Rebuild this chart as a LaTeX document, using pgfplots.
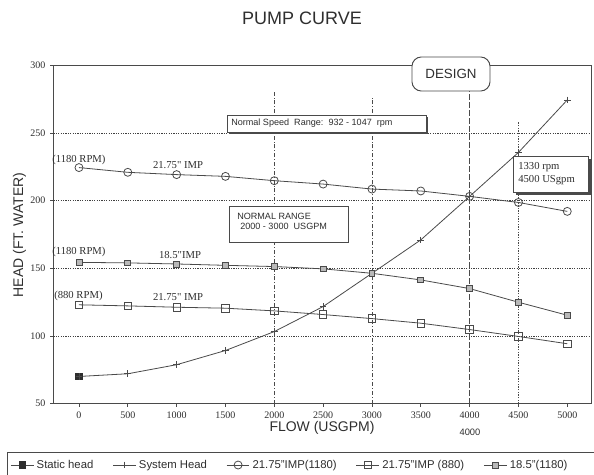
\documentclass[border=0pt]{standalone}
\usepackage{pgfplots}
\pgfplotsset{compat=1.18}
\usepackage{fontspec}
\setmainfont{Liberation Sans}
\newfontfamily\serif{Liberation Serif}
\definecolor{ink}{HTML}{2E2E2E}
\definecolor{ln}{HTML}{4A4A4A}
\begin{document}
\begin{tikzpicture}
\path[use as bounding box] (0,0) rectangle (445.5pt,-356.25pt);
\begin{axis}[
  at={(40.125pt,-302.625pt)}, anchor=south west,
  scale only axis, width=403.125pt, height=253.5pt,
  xmin=-261, xmax=5243, ymin=50, ymax=300,
  xtick={0,500,...,5000}, ytick={50,100,...,300},
  tick align=outside, major tick length=2.5pt,
  xtick pos=bottom, ytick pos=left,
  tick style={ln, line width=0.5pt},
  ticklabel style={font=\serif\fontsize{7.5}{9}\selectfont, text=ink},
  /pgf/number format/assume math mode=true,
  /pgf/number format/1000 sep={},
  axis line style={ln, line width=0.7pt},
  clip=false,
  legend columns=5,
  legend style={draw=none, fill=none, at={(-0.088,-0.182)}, anchor=west,
    font=\fontsize{8.5}{10}\selectfont, text=ink,
    /tikz/every even column/.append style={column sep=12.5pt}},
  legend cell align=left,
  every axis plot/.append style={line width=0.6pt, ln},
]
% horizontal grid lines
\addplot[forget plot, gray!50!black, line width=0.6pt, dash pattern=on 0.9pt off 0.9pt] coordinates {(-261,100) (5243,100)};
\addplot[forget plot, gray!50!black, line width=0.6pt, dash pattern=on 0.9pt off 0.9pt] coordinates {(-261,150) (5243,150)};
\addplot[forget plot, gray!50!black, line width=0.6pt, dash pattern=on 0.9pt off 0.9pt] coordinates {(-261,200) (5243,200)};
\addplot[forget plot, gray!50!black, line width=0.6pt, dash pattern=on 0.9pt off 0.9pt] coordinates {(-261,250) (5243,250)};
% vertical reference lines
\addplot[forget plot, ln, line width=0.5pt, dash pattern=on 3pt off 1.5pt on 0.6pt off 1.5pt] coordinates {(2000,50) (2000,281)};
\addplot[forget plot, ln, line width=0.5pt, dash pattern=on 3pt off 1.5pt on 0.6pt off 1.5pt] coordinates {(3000,50) (3000,277.5)};
\addplot[forget plot, ln, line width=0.5pt, dash pattern=on 4pt off 2pt] coordinates {(4000,50) (4000,281)};
\addplot[forget plot, ln, line width=0.5pt, dash pattern=on 0.8pt off 1.2pt] coordinates {(4500,50) (4500,259)};
% series
\addplot[ln, mark=square*, mark size=2.5pt, mark options={fill=ink, draw=ink}] coordinates {(0,70)};
\addlegendentry{Static head}
\addplot[ln, mark=+, mark size=2.5pt] coordinates {
(0,70) (500,72) (1000,78.7) (1500,89.2) (2000,103.2) (2500,121.7)
(3000,146.3) (3500,171) (4000,203.2) (4500,235.7) (5000,274.5)};
\addlegendentry{System Head}
\addplot[ln, mark=o, mark size=3pt, mark options={fill=gray!25}] coordinates {
(0,224.5) (500,221) (1000,219.3) (1500,218) (2000,214.8) (2500,212.3)
(3000,208.6) (3500,207.2) (4000,203.2) (4500,198.7) (5000,192.1)};
\addlegendentry{21.75"IMP(1180)}
\addplot[ln, mark=square, mark size=2.8pt, mark options={fill=white}] coordinates {
(0,123) (500,122.2) (1000,121.2) (1500,120.5) (2000,118.5) (2500,115.8)
(3000,112.8) (3500,109.4) (4000,104.7) (4500,99.6) (5000,94.2)};
\addlegendentry{21.75"IMP (880)}
\addplot[ln, mark=square*, mark size=2.2pt, mark options={fill=gray!55, draw=ln}] coordinates {
(0,154.4) (500,154) (1000,153.2) (1500,152.2) (2000,151.3) (2500,149.6)
(3000,146.3) (3500,141.4) (4000,135) (4500,124.9) (5000,115.3)};
\addlegendentry{18.5"(1180)}
\end{axis}
\begin{scope}[x=0.75pt, y=-0.75pt]
% titles
\node[font=\fontsize{13.5}{16}\selectfont, text=ink] at (302,18) {PUMP CURVE};
\node[rotate=90, font=\fontsize{10.5}{12}\selectfont, text=ink] at (19.5,235) {HEAD (FT. WATER)};
\node[font=\fontsize{10.5}{12}\selectfont, text=ink] at (322,428) {FLOW (USGPM)};
\node[font=\fontsize{7}{8}\selectfont, text=ink] at (470,432) {4000};
% curve labels
\begin{scope}[font=\serif\fontsize{8}{9.6}\selectfont, text=ink]
\node[anchor=west, inner sep=0] at (52,160) {(1180 RPM)};
\node at (178,165) {21.75" IMP};
\node[anchor=west, inner sep=0] at (52,252) {(1180 RPM)};
\node at (180,255) {18.5"IMP};
\node[anchor=west, inner sep=0] at (54,296) {(880 RPM)};
\node at (178,297) {21.75" IMP};
\end{scope}
% boxes
\fill[ln] (228.5,116.5) rectangle (427.5,133.5);
\draw[ln, line width=0.6pt, fill=white] (227,115) rectangle (426,132);
\node[anchor=west, font=\fontsize{6.8}{8}\selectfont, text=ink, inner sep=0] at (231,123.5) {Normal Speed\ \ Range:\ \ 932 - 1047\ \ rpm};
\draw[ln, line width=0.6pt, fill=white] (229,206) rectangle (348,242);
\node[anchor=west, font=\fontsize{6.8}{8}\selectfont, text=ink, inner sep=0] at (237,216) {NORMAL RANGE};
\node[anchor=west, font=\fontsize{6.8}{8}\selectfont, text=ink, inner sep=0] at (240,226) {2000 - 3000\ \ USGPM};
\draw[ln, line width=0.7pt, fill=white, rounded corners=7pt] (412,57) rectangle (490,91);
\node[font=\fontsize{10}{12}\selectfont, text=ink] at (451,74) {DESIGN};
\fill[ln] (516,159) rectangle (591,195);
\draw[ln, line width=0.6pt, fill=white] (513,156) rectangle (588,192);
\node[anchor=west, font=\serif\fontsize{8}{9.6}\selectfont, text=ink, inner sep=0] at (518,167) {1330 rpm};
\node[anchor=west, font=\serif\fontsize{8}{9.6}\selectfont, text=ink, inner sep=0] at (518,180) {4500 USgpm};
% legend frame
\draw[ln, line width=0.7pt] (7,452) rectangle (600,490);
\end{scope}
\end{tikzpicture}
\end{document}
